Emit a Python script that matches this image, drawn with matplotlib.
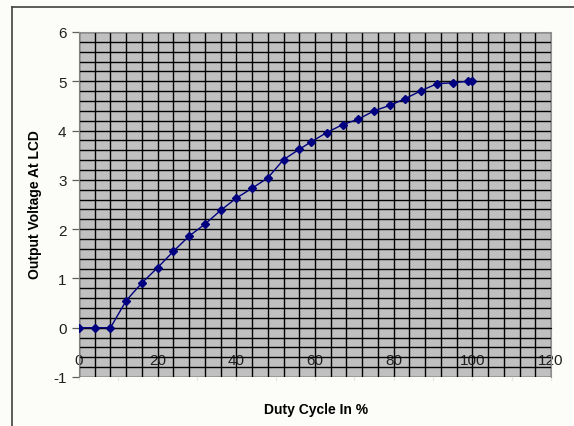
import numpy as np
import matplotlib.pyplot as plt
from matplotlib.ticker import MultipleLocator
from matplotlib.lines import Line2D

# duty cycle (%) and measured output voltage
duty = [0, 4, 8, 12, 16, 20, 24, 28, 32, 36, 40, 44, 48, 52, 56, 59,
        63, 67, 71, 75, 79, 83, 87, 91, 95, 99, 100]
volts = [0, 0, 0, 0.55, 0.91, 1.22, 1.55, 1.86, 2.10, 2.38, 2.63, 2.83,
         3.04, 3.41, 3.62, 3.77, 3.96, 4.12, 4.23, 4.40, 4.51, 4.65, 4.81,
         4.95, 4.97, 5.0, 5.0]

x_ticks = [0, 20, 40, 60, 80, 100, 120]
y_ticks = [-1, 0, 1, 2, 3, 4, 5, 6]

plt.rcParams['font.family'] = ['Liberation Sans', 'DejaVu Sans']
plt.rcParams['axes.unicode_minus'] = False

W, H = 574, 427
fig = plt.figure(figsize=(W / 100, H / 100), dpi=100)
fig.patch.set_facecolor('#fcfcf8')

# chart area border (only left and top visible)
fig.add_artist(Line2D([12 / W, 12 / W], [0, 1 - 8 / H], color='#404040', lw=1.2))
fig.add_artist(Line2D([12 / W, 1], [1 - 8 / H, 1 - 8 / H], color='#404040', lw=1.2))

left, right, top, bottom = 79, 551, 33, 378
ax = fig.add_axes([left / W, 1 - bottom / H, (right - left) / W, (bottom - top) / H])
ax.set_facecolor('#c0c0c0')

ax.set_xlim(0, 120)
ax.set_ylim(-1, 6)
ax.set_xticks(x_ticks)
ax.set_yticks(y_ticks)
ax.xaxis.set_minor_locator(MultipleLocator(4))
ax.yaxis.set_minor_locator(MultipleLocator(0.2))
ax.grid(True, which='both', color='black', lw=1.0)
ax.set_axisbelow(True)

for s in ['top', 'right']:
    ax.spines[s].set_color('#909090')
ax.spines['left'].set_color('#808080')
ax.spines['bottom'].set_position(('data', 0))
ax.spines['bottom'].set_color('black')

ax.tick_params(axis='x', which='both', length=0, pad=18, labelsize=11, colors='#202020')
ax.tick_params(axis='y', which='major', length=5, width=0.9, color='#606060',
               labelsize=11, pad=4, labelcolor='#202020')
ax.tick_params(axis='y', which='minor', length=0)

# faint ticks under the plot area
for xv in range(0, 121, 10):
    ax.plot([xv, xv], [-1, -1.06], color='#e6e6e6', lw=0.8, clip_on=False)

ax.plot(duty, volts, color='#000080', lw=1.0, marker='D', markersize=3.8,
        markerfacecolor='#000080', markeredgecolor='#000080', zorder=5)

fig.text(35 / W, 1 - 205 / H, 'Output Voltage At LCD', rotation=90,
         ha='center', va='center', fontsize=10, fontweight='bold')
fig.text(316 / W, 1 - 410 / H, 'Duty Cycle In %', ha='center', va='center',
         fontsize=10, fontweight='bold')

fig.savefig('out.png', dpi=100, facecolor=fig.get_facecolor())
